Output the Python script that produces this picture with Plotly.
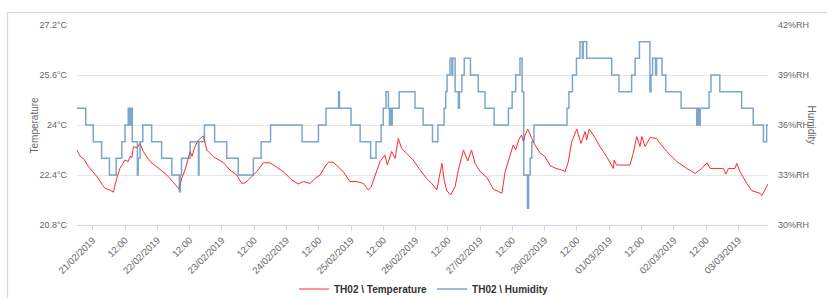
import plotly.graph_objects as go
import pandas as pd

BASE = pd.Timestamp("2019-02-21 00:00")

# Temperature (°C) readings: hours since 21/02/2019 00:00
temp_hours = [-5.85, -4.7, -3.2, -1.6, 0.1, 2.1, 3.5, 4.6, 6.4, 7.7, 8.9, 10.1, 12.0, 13.2, 13.9, 14.5,
              15.1, 16.4, 17.6, 18.8, 21.3, 23.2, 25.0, 26.9, 28.7, 31.2, 32.1, 33.1, 34.3, 36.2, 36.9,
              38.0, 39.3, 41.1, 42.4, 44.8, 46.6, 48.5, 51.0, 53.5, 55.4, 56.6, 57.8, 61.0, 63.4, 65.9,
              68.4, 70.8, 74.0, 76.4, 78.3, 80.8, 82.6, 84.5, 86.3, 87.6, 89.4, 91.3, 93.1, 95.6, 98.2,
              100.6, 102.4, 103.4, 104.9, 106.8, 108.6, 109.5, 111.1, 112.4, 113.6, 114.8, 116.7, 119.1,
              121.7, 124.1, 126.0, 127.9, 128.7, 129.8, 130.7, 131.6, 133.0, 134.7, 135.9, 137.8, 139.4,
              140.8, 142.1, 144.0, 146.5, 148.9, 150.8, 152.1, 153.3, 155.1, 156.3, 157.2, 158.3, 159.4,
              160.1, 160.7, 161.7, 163.2, 164.4, 166.3, 168.1, 170.0, 172.2, 174.3, 175.6, 176.8, 178.0,
              179.9, 181.5, 183.0, 183.6, 184.5, 186.7, 188.5, 191.0, 193.5, 193.8, 194.7, 197.1, 199.7,
              200.9, 202.2, 203.4, 204.1, 205.3, 207.2, 209.6, 210.9, 213.4, 217.1, 220.8, 223.9, 226.4,
              228.3, 229.5, 232.1, 234.4, 235.4, 236.3, 238.7, 239.4, 240.6, 243.1, 245.0, 246.6, 248.1,
              248.7, 251.0]
temp_values = [23.20, 23.00, 22.90, 22.67, 22.50, 22.29, 22.10, 21.97, 21.92, 21.85, 22.29, 22.61, 22.88,
               22.83, 23.00, 22.95, 23.31, 23.27, 23.41, 23.15, 22.83, 22.70, 22.56, 22.45, 22.29, 22.03,
               21.95, 22.30, 22.56, 23.15, 23.00, 23.31, 23.52, 23.65, 23.20, 22.99, 22.90, 22.80, 22.56,
               22.40, 22.13, 22.15, 22.24, 22.51, 22.79, 22.79, 22.65, 22.51, 22.24, 22.11, 22.19, 22.13,
               22.29, 22.40, 22.67, 22.81, 22.81, 22.67, 22.51, 22.19, 22.19, 22.13, 21.92, 22.00, 22.35,
               22.83, 23.04, 22.72, 23.15, 22.93, 23.57, 23.25, 23.09, 22.88, 22.56, 22.29, 22.13, 21.92,
               22.29, 22.77, 22.19, 21.90, 21.76, 22.03, 22.56, 23.20, 22.85, 23.20, 22.77, 22.51, 22.32,
               21.95, 21.87, 21.82, 22.51, 23.04, 23.36, 23.20, 23.52, 23.68, 23.47, 23.68, 23.87, 23.57,
               23.36, 23.10, 22.99, 22.70, 22.61, 22.56, 22.51, 22.83, 23.45, 23.87, 23.41, 23.79, 23.52,
               23.87, 23.60, 23.31, 22.99, 22.61, 22.88, 22.72, 22.72, 22.72, 23.09, 23.63, 23.31, 23.63,
               23.31, 23.60, 23.57, 23.41, 23.15, 22.83, 22.61, 22.45, 22.61, 22.79, 22.61, 22.61, 22.61,
               22.43, 22.61, 22.61, 22.77, 22.51, 22.13, 21.90, 21.85, 21.81, 21.74, 22.11]

# Humidity (%RH) step changes: hours since 21/02/2019 00:00
hum_hours = [-5.85, -2.6, 0.2, 3.3, 6.2, 8.7, 10.8, 12.0, 13.2, 13.6, 13.8, 14.0, 14.2, 14.7, 16.6, 16.9,
             17.6, 18.6, 21.9, 25.6, 29.4, 32.2, 32.5, 33.0, 36.2, 39.3, 39.5, 41.5, 45.3, 49.8, 54.1,
             59.7, 62.6, 66.1, 77.8, 83.9, 86.7, 91.4, 91.7, 96.0, 99.4, 103.3, 105.3, 107.2, 108.0,
             109.0, 109.9, 110.3, 110.6, 111.0, 111.3, 113.9, 119.8, 122.8, 126.3, 128.3, 130.6, 131.2,
             131.7, 132.8, 133.5, 133.8, 134.7, 135.9, 136.3, 137.2, 138.1, 140.4, 143.3, 145.8, 149.2,
             154.5, 155.9, 157.2, 158.8, 159.6, 160.2, 161.6, 162.0, 162.6, 163.2, 164.0, 176.3, 177.0,
             178.3, 179.8, 181.1, 182.0, 182.3, 183.6, 192.9, 195.6, 200.3, 201.6, 203.2, 207.1, 207.5,
             208.1, 209.2, 209.6, 211.6, 213.0, 218.7, 224.5, 224.9, 225.3, 225.8, 229.1, 229.8, 233.1,
             241.2, 245.5, 249.3, 250.5, 251.0]
hum_values = [37, 36, 35, 34, 33, 34, 35, 36, 37, 36, 37, 36, 37, 35, 33, 34,
              35, 36, 35, 34, 33, 32, 33, 34, 35, 33, 35, 36, 35, 34, 33,
              34, 35, 36, 35, 36, 37, 38, 37, 36, 35, 34, 35, 36, 37,
              38, 37, 36, 37, 36, 37, 38, 37, 36, 35, 36, 37, 38,
              39, 40, 39, 40, 38, 37, 38, 39, 40, 39, 38, 37, 36,
              37, 38, 39, 40, 38, 33, 31, 33, 34, 35, 36, 37, 38,
              39, 40, 41, 40, 41, 40, 39, 38, 39, 40, 41, 38, 39,
              40, 39, 40, 39, 38, 37, 36, 37, 36, 37, 38, 39, 38,
              37, 36, 35, 36, 36]

x_tick_hours = [0, 12, 24, 36, 48, 60, 72, 84, 96, 108, 120, 132, 144, 156, 168, 180, 192, 204, 216, 228, 240]
x_tick_labels = ["21/02/2019", "12:00", "22/02/2019", "12:00", "23/02/2019", "12:00", "24/02/2019", "12:00",
                 "25/02/2019", "12:00", "26/02/2019", "12:00", "27/02/2019", "12:00", "28/02/2019", "12:00",
                 "01/03/2019", "12:00", "02/03/2019", "12:00", "03/03/2019"]
temp_ticks = [20.8, 22.4, 24.0, 25.6, 27.2]
temp_tick_labels = ["20.8°C", "22.4°C", "24°C", "25.6°C", "27.2°C"]
hum_ticks = [30, 33, 36, 39, 42]
hum_tick_labels = ["30%RH", "33%RH", "36%RH", "39%RH", "42%RH"]

def to_time(hours):
    return BASE + pd.to_timedelta(hours, unit="h")

FONT = "Liberation Sans, Arial, sans-serif"
PL, PR, PT, PB = 77, 768, 25, 225   # plot area in pixels
W, H = 827, 298

def px_x(p):
    return (p - PL) / (PR - PL)

def px_y(p):
    return (PB - p) / (PB - PT)

fig = go.Figure()
fig.add_trace(go.Scatter(x=to_time(temp_hours), y=temp_values, mode="lines",
                         name="TH02 \\ Temperature", line=dict(color="#ff2a2a", width=1)))
fig.add_trace(go.Scatter(x=to_time(hum_hours), y=hum_values, mode="lines", yaxis="y2",
                         name="TH02 \\ Humidity",
                         line=dict(color="rgba(70,130,180,0.7)", width=1.5, shape="hv")))

fig.update_layout(
    width=W, height=H,
    margin=dict(l=PL, r=W - PR, t=PT, b=H - PB, autoexpand=False),
    paper_bgcolor="white", plot_bgcolor="white",
    font=dict(family=FONT, color="#666666"),
    xaxis=dict(type="date", range=[to_time(-5.85), to_time(251.0)],
               tickvals=to_time(x_tick_hours), ticktext=x_tick_labels, tickangle=-45,
               ticks="outside", ticklen=5, tickcolor="#ccd6eb", showline=True, linecolor="#ccd6eb",
               showgrid=False, zeroline=False, automargin=False,
               tickfont=dict(size=9.5, color="#666666")),
    yaxis=dict(range=[20.8, 27.2], tickvals=temp_ticks, ticktext=temp_tick_labels,
               gridcolor="#e6e6e6", zeroline=False, showline=False, ticks="", automargin=False,
               ticklabelstandoff=9, tickfont=dict(size=9, color="#666666")),
    yaxis2=dict(range=[30, 42], tickvals=hum_ticks, ticktext=hum_tick_labels, overlaying="y",
                side="right", showgrid=False, zeroline=False, showline=False, ticks="",
                automargin=False, ticklabelstandoff=9, tickfont=dict(size=9, color="#666666")),
    legend=dict(orientation="h", x=px_x(424), xanchor="center", y=px_y(289), yanchor="middle",
                font=dict(size=10, color="#333333", weight="bold"), bgcolor="rgba(0,0,0,0)"),
    annotations=[
        dict(text="Temperature", xref="paper", yref="paper", x=px_x(26), y=0.5,
             textangle=-90, showarrow=False, font=dict(size=10, color="#666666")),
        dict(text="Humidity", xref="paper", yref="paper", x=px_x(819), y=0.5,
             textangle=90, showarrow=False, font=dict(size=10, color="#666666")),
    ],
    shapes=[dict(type="rect", xref="paper", yref="paper", x0=px_x(7.5), x1=px_x(840),
                 y0=px_y(310), y1=px_y(12.5), line=dict(color="#d9d9d9", width=1.2), layer="below")],
)

fig.write_html("out.html", config={"displayModeBar": False},
               post_script="document.body.style.margin='0';document.body.style.padding='0';"
                           "document.body.style.overflow='hidden';")
